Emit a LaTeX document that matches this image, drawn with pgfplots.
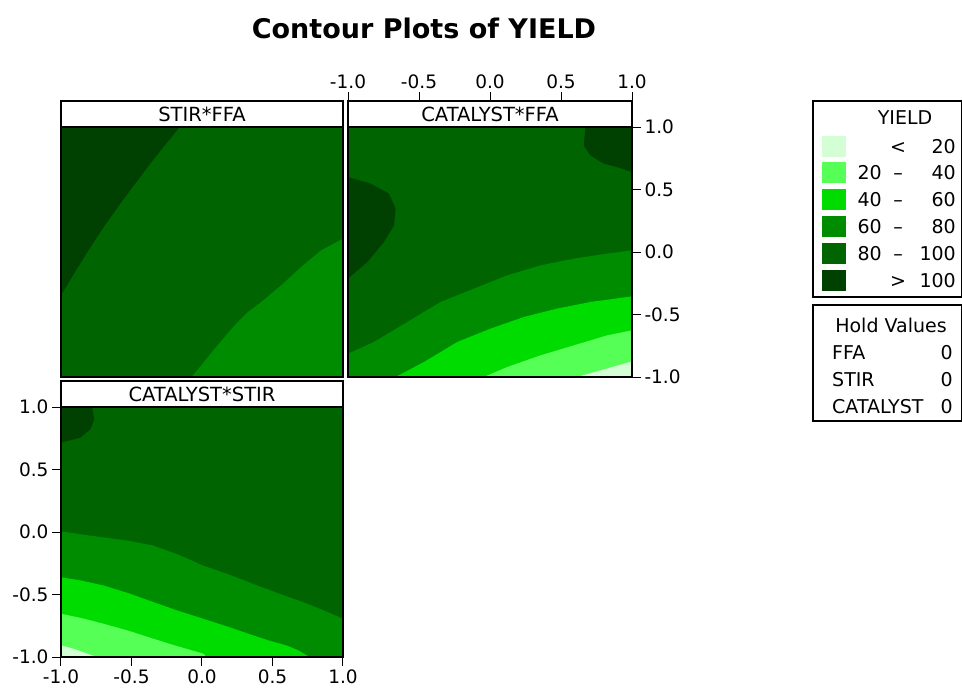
\documentclass[border=0pt]{standalone}
\usepackage{fontspec}
\setmainfont{DejaVu Sans}
\usepackage{pgfplots}
\pgfplotsset{compat=1.18}
\definecolor{cA}{HTML}{D4FFD4}
\definecolor{cB}{HTML}{55FF55}
\definecolor{cC}{HTML}{00DC00}
\definecolor{cD}{HTML}{008C00}
\definecolor{cE}{HTML}{006400}
\definecolor{cF}{HTML}{004000}
\tikzset{hdr/.style={line width=1.4pt, fill=white},
  hdrtext/.style={font=\fontsize{19.5}{22}\selectfont}}
\pgfplotsset{panel/.style={scale only axis, height=276pt, xmin=-1, xmax=1, ymin=-1, ymax=1.208,
  axis on top, clip=false, axis line style={line width=1.4pt},
  tick style={line width=1pt, black}, major tick length=9pt, tick align=outside,
  xtick={-1,-0.5,0,0.5,1}, ytick={-1,-0.5,0,0.5,1},
  /pgf/number format/fixed, /pgf/number format/fixed zerofill, /pgf/number format/precision=1,
  /pgf/number format/assume math mode=true,
  ticklabel style={font=\fontsize{18.5}{21}\selectfont}}}
\begin{document}
\begin{tikzpicture}
\path[use as bounding box] (0,0) rectangle (962pt,-689pt);
\node[font=\bfseries\fontsize{27}{31}\selectfont] at (424pt,-28pt) {Contour Plots of YIELD};
% Panel 1 STIR*FFA
\begin{axis}[panel, width=282pt, at={(61pt,-377pt)}, anchor=south west, xtick=\empty, ytick=\empty]
\addplot[fill=cE, draw=none] coordinates {(-1,-1)(1,-1)(1,1)(-1,1)} -- cycle;
\addplot[fill=cF, draw=none] coordinates {(-1,1)(-0.158,1)(-0.264,0.853)(-0.358,0.72)(-0.465,0.56)(-0.571,0.40)(-0.689,0.213)(-0.783,0.053)(-0.901,-0.16)(-1,-0.347)} -- cycle;
\addplot[fill=cD, draw=none] coordinates {(1,0.107)(0.844,0.013)(0.703,-0.12)(0.561,-0.267)(0.42,-0.4)(0.325,-0.48)(0.231,-0.587)(0.09,-0.773)(-0.005,-0.907)(-0.075,-1)(1,-1)} -- cycle;
\draw[hdr] (axis cs:-1,1) rectangle (axis cs:1,1.208);
\node[hdrtext] at (axis cs:0,1.104) {STIR*FFA};
\end{axis}
% Panel 2 CATALYST*FFA
\begin{axis}[panel, width=284pt, at={(348pt,-377pt)}, anchor=south west,
  xtick pos=right, xticklabel pos=right, ytick pos=right, yticklabel pos=right]
\addplot[fill=cE, draw=none] coordinates {(-1,-1)(1,-1)(1,1)(-1,1)} -- cycle;
\addplot[fill=cF, draw=none] coordinates {(0.672,1)(0.66,0.853)(0.707,0.773)(0.8,0.707)(0.894,0.68)(1,0.64)(1,1)} -- cycle;
\addplot[fill=cF, draw=none] coordinates {(-1,0.6)(-0.841,0.547)(-0.712,0.467)(-0.665,0.347)(-0.676,0.213)(-0.747,0.08)(-0.864,-0.08)(-1,-0.213)} -- cycle;
\addplot[fill=cD, draw=none] coordinates {(-1,-0.813)(-0.817,-0.72)(-0.583,-0.56)(-0.348,-0.4)(-0.114,-0.293)(0.121,-0.187)(0.355,-0.107)(0.59,-0.053)(0.824,-0.013)(1,0.013)(1,-1)(-1,-1)} -- cycle;
\addplot[fill=cC, draw=none] coordinates {(-0.665,-1)(-0.465,-0.88)(-0.231,-0.72)(0.004,-0.613)(0.238,-0.52)(0.472,-0.453)(0.707,-0.4)(1,-0.355)(1,-1)} -- cycle;
\addplot[fill=cB, draw=none] coordinates {(-0.043,-1)(0.121,-0.92)(0.355,-0.827)(0.59,-0.747)(0.824,-0.667)(1,-0.627)(1,-1)} -- cycle;
\addplot[fill=cA, draw=none] coordinates {(0.613,-1)(0.777,-0.947)(1,-0.875)(1,-1)} -- cycle;
\draw[hdr] (axis cs:-1,1) rectangle (axis cs:1,1.208);
\node[hdrtext] at (axis cs:0,1.104) {CATALYST*FFA};
\end{axis}
% Panel 3 CATALYST*STIR
\begin{axis}[panel, width=282pt, at={(61pt,-657pt)}, anchor=south west,
  xtick pos=left, ytick pos=left]
\addplot[fill=cE, draw=none] coordinates {(-1,-1)(1,-1)(1,1)(-1,1)} -- cycle;
\addplot[fill=cF, draw=none] coordinates {(-1,1)(-0.78,1)(-0.764,0.902)(-0.792,0.822)(-0.863,0.755)(-1,0.715)} -- cycle;
\addplot[fill=cD, draw=none] coordinates {(-1,0.005)(-0.85,-0.02)(-0.698,-0.043)(-0.52,-0.07)(-0.344,-0.109)(-0.17,-0.18)(0.009,-0.269)(0.19,-0.34)(0.363,-0.415)(0.54,-0.49)(0.717,-0.561)(0.86,-0.625)(1,-0.694)(1,-1)(-1,-1)} -- cycle;
\addplot[fill=cC, draw=none] coordinates {(-1,-0.362)(-0.85,-0.39)(-0.698,-0.428)(-0.52,-0.49)(-0.344,-0.561)(-0.17,-0.63)(0.009,-0.694)(0.19,-0.76)(0.363,-0.827)(0.48,-0.87)(0.599,-0.907)(0.68,-0.945)(0.764,-1)(-1,-1)} -- cycle;
\addplot[fill=cB, draw=none] coordinates {(-1,-0.654)(-0.85,-0.69)(-0.698,-0.734)(-0.52,-0.79)(-0.344,-0.854)(-0.17,-0.915)(0.009,-0.973)(0.033,-1)(-1,-1)} -- cycle;
\addplot[fill=cA, draw=none] coordinates {(-1,-0.907)(-0.91,-0.934)(-0.745,-1)(-1,-1)} -- cycle;
\draw[hdr] (axis cs:-1,1) rectangle (axis cs:1,1.208);
\node[hdrtext] at (axis cs:0,1.104) {CATALYST*STIR};
\end{axis}
% Legend
\begin{scope}[font=\fontsize{19}{22}\selectfont]
\draw[line width=1.4pt] (813pt,-101pt) rectangle (961.3pt,-297pt);
\node at (905pt,-118pt) {YIELD};
\foreach \c/\y in {cA/146,cB/172,cC/199,cD/226,cE/253,cF/280}{
  \fill[\c] (822pt,-\y pt+10.5pt) rectangle (846pt,-\y pt-10.5pt);
}
\node[anchor=base east, inner sep=0pt] at (956pt,-153pt) {20};
\node[anchor=base, inner sep=0pt] at (898pt,-153pt) {<};
\node[anchor=base east, inner sep=0pt] at (882pt,-179pt) {20};
\node[anchor=base, inner sep=0pt] at (898pt,-179pt) {–};
\node[anchor=base east, inner sep=0pt] at (956pt,-179pt) {40};
\node[anchor=base east, inner sep=0pt] at (882pt,-206pt) {40};
\node[anchor=base, inner sep=0pt] at (898pt,-206pt) {–};
\node[anchor=base east, inner sep=0pt] at (956pt,-206pt) {60};
\node[anchor=base east, inner sep=0pt] at (882pt,-233pt) {60};
\node[anchor=base, inner sep=0pt] at (898pt,-233pt) {–};
\node[anchor=base east, inner sep=0pt] at (956pt,-233pt) {80};
\node[anchor=base east, inner sep=0pt] at (882pt,-260pt) {80};
\node[anchor=base, inner sep=0pt] at (898pt,-260pt) {–};
\node[anchor=base east, inner sep=0pt] at (956pt,-260pt) {100};
\node[anchor=base, inner sep=0pt] at (898pt,-287pt) {>};
\node[anchor=base east, inner sep=0pt] at (956pt,-287pt) {100};
\draw[line width=1.4pt] (813pt,-305pt) rectangle (961.3pt,-421pt);
\node at (891pt,-325pt) {Hold Values};
\node[anchor=base west, inner sep=0pt] at (832pt,-359pt) {FFA};
\node[anchor=base east, inner sep=0pt] at (953pt,-359pt) {0};
\node[anchor=base west, inner sep=0pt] at (832pt,-386pt) {STIR};
\node[anchor=base east, inner sep=0pt] at (953pt,-386pt) {0};
\node[anchor=base west, inner sep=0pt] at (832pt,-413pt) {CATALYST};
\node[anchor=base east, inner sep=0pt] at (953pt,-413pt) {0};
\end{scope}
\end{tikzpicture}
\end{document}
